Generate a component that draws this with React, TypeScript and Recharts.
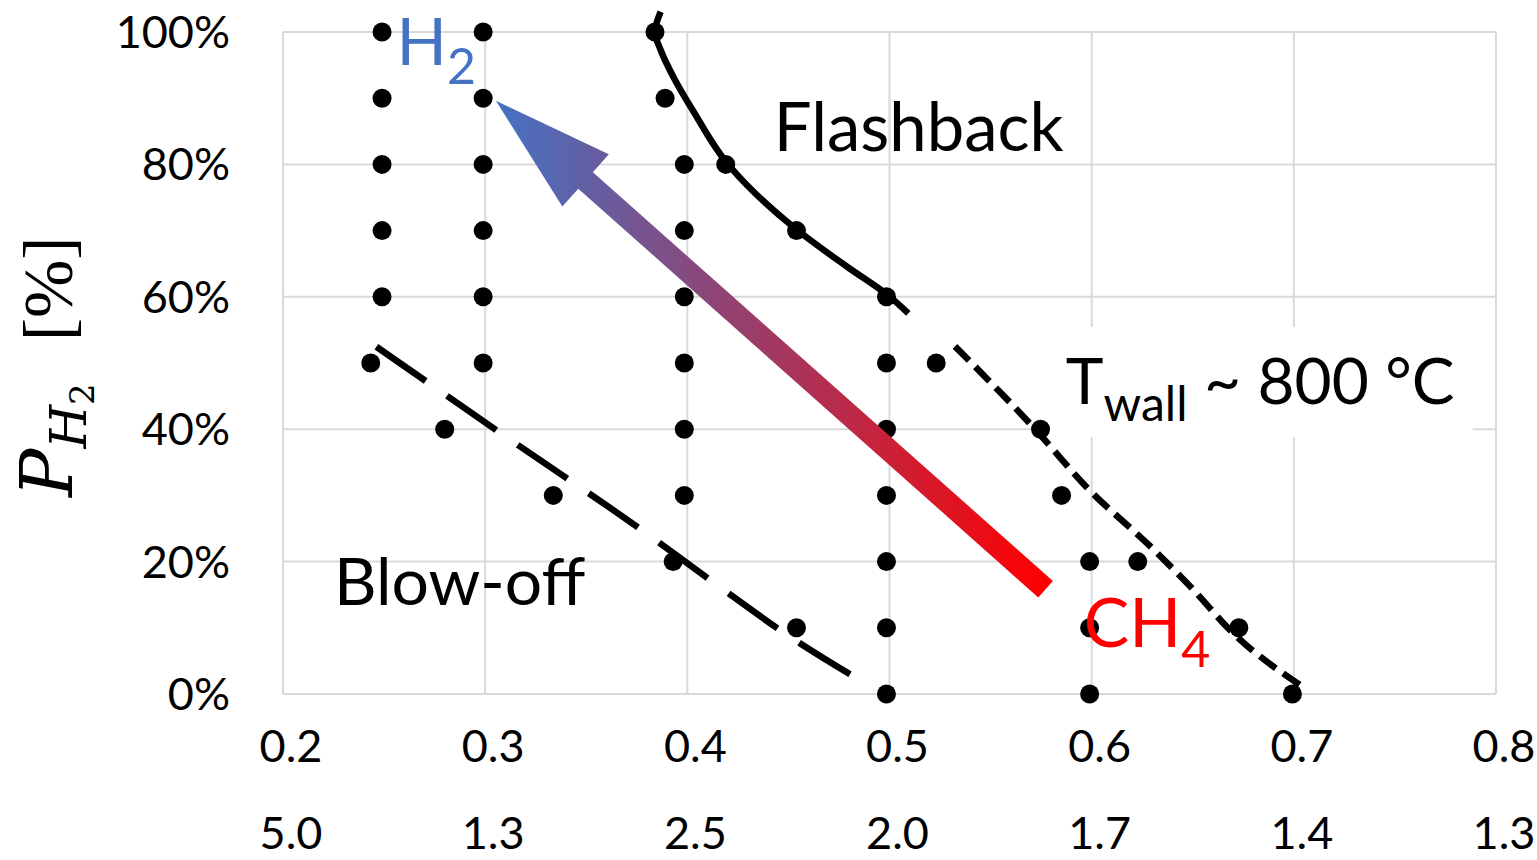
import React from 'react';
import {
  ComposedChart,
  XAxis,
  YAxis,
  Scatter,
  Line,
  ReferenceLine,
  ReferenceArea,
} from 'recharts';

// ---------- axes ----------
const xTicks = [0.2, 0.3, 0.4, 0.5, 0.6, 0.7, 0.8];
const xTicksSecondRow = ['5.0', '1.3', '2.5', '2.0', '1.7', '1.4', '1.3'];
const yTicks = [0, 0.2, 0.4, 0.6, 0.8, 1.0];
const yDomainMax = 1.03625;

// ---------- measured operating points (x = equivalence ratio, y = H2 share) ----------
const column025 = [
  { x: 0.249, y: 1.0 }, { x: 0.249, y: 0.9 }, { x: 0.249, y: 0.8 }, { x: 0.249, y: 0.7 }, { x: 0.249, y: 0.6 },
];
const column030 = [
  { x: 0.299, y: 1.0 }, { x: 0.299, y: 0.9 }, { x: 0.299, y: 0.8 }, { x: 0.299, y: 0.7 }, { x: 0.299, y: 0.6 }, { x: 0.299, y: 0.5 },
];
const blowoffPoints = [
  { x: 0.2434, y: 0.5 }, { x: 0.28, y: 0.4 }, { x: 0.3337, y: 0.3 }, { x: 0.393, y: 0.2 }, { x: 0.454, y: 0.1 }, { x: 0.4985, y: 0.0 },
];
const column040 = [
  { x: 0.3985, y: 0.8 }, { x: 0.3985, y: 0.7 }, { x: 0.3985, y: 0.6 }, { x: 0.3985, y: 0.5 }, { x: 0.3985, y: 0.4 }, { x: 0.3985, y: 0.3 },
];
const column050 = [
  { x: 0.4985, y: 0.5 }, { x: 0.4985, y: 0.4 }, { x: 0.4985, y: 0.3 }, { x: 0.4985, y: 0.2 }, { x: 0.4985, y: 0.1 },
];
const flashbackPoints = [
  { x: 0.384, y: 1.0 }, { x: 0.389, y: 0.9 }, { x: 0.419, y: 0.8 }, { x: 0.454, y: 0.7 }, { x: 0.4985, y: 0.6 },
];
const twallPoints = [
  { x: 0.5231, y: 0.5 }, { x: 0.5747, y: 0.4 }, { x: 0.5851, y: 0.3 }, { x: 0.6228, y: 0.2 }, { x: 0.6728, y: 0.1 }, { x: 0.6993, y: 0.0 },
];
const column060 = [
  { x: 0.599, y: 0.2 }, { x: 0.599, y: 0.1 }, { x: 0.599, y: 0.0 },
];

const allPoints = [
  ...column025, ...column030, ...blowoffPoints, ...column040,
  ...column050, ...flashbackPoints, ...twallPoints, ...column060,
];

// ---------- stability limit curves ----------
const flashbackLimit = [
  { x: 0.3868, y: 1.0307 }, { x: 0.384, y: 1.0 }, { x: 0.3868, y: 0.9728 }, { x: 0.3939, y: 0.9275 },
  { x: 0.4035, y: 0.8776 }, { x: 0.4196, y: 0.8021 }, { x: 0.4319, y: 0.7613 }, { x: 0.4537, y: 0.7024 },
  { x: 0.4792, y: 0.645 }, { x: 0.4991, y: 0.6027 }, { x: 0.5093, y: 0.575 },
];
const blowoffLimit = [
  { x: 0.2462, y: 0.5246 }, { x: 0.3078, y: 0.3938 }, { x: 0.3797, y: 0.2427 },
  { x: 0.4147, y: 0.1647 }, { x: 0.4507, y: 0.0866 }, { x: 0.4866, y: 0.0186 },
];
const twallLimit = [
  { x: 0.5324, y: 0.5251 }, { x: 0.5724, y: 0.3988 }, { x: 0.5974, y: 0.3127 }, { x: 0.63, y: 0.2201 },
  { x: 0.6495, y: 0.1601 }, { x: 0.6689, y: 0.0952 }, { x: 0.7037, y: 0.0121 },
];

// ---------- annotations (data coordinates) ----------
const arrowFromCH4toH2 = [{ x: 0.5772, y: 0.1583 }, { x: 0.3053, y: 0.8962 }];
const twallBox = { x1: 0.5793, x2: 0.7885, y1: 0.3882, y2: 0.5544 };
const flashbackAnchor = [{ x: 0.4428, y: 0.8207 }];
const blowoffAnchor = [{ x: 0.2252, y: 0.1344 }];
const twallAnchor = [{ x: 0.5872, y: 0.4381 }];
const h2Anchor = [{ x: 0.2562, y: 0.9494 }];
const ch4Anchor = [{ x: 0.5961, y: 0.0715 }];

const FONT = 'Lato';
const GRID = '#D9D9D9';
const LIMIT_WIDTH = 6.5;

const XTick = (props: any) => {
  const { x, y, payload } = props;
  const i = xTicks.indexOf(payload.value);
  return (
    <g>
      <text x={x + 8} y={y + 68} textAnchor="middle" fontFamily={FONT} fontSize={45} fill="#000">
        {Number(payload.value).toFixed(1)}
      </text>
      <text x={x + 8} y={y + 155} textAnchor="middle" fontFamily={FONT} fontSize={45} fill="#000">
        {xTicksSecondRow[i]}
      </text>
    </g>
  );
};

const YLabel = (props: any) => {
  const vb = props.viewBox || { x: 0, y: 8 };
  const cx = vb.x + 72;
  const cy = vb.y + 489;
  return (
    <text
      transform={`rotate(-90 ${cx} ${cy})`}
      x={cx}
      y={cy}
      fontFamily="'DejaVu Serif', 'Liberation Serif', serif"
      fill="#000"
    >
      <tspan fontSize={72} fontStyle="italic">P</tspan>
      <tspan fontSize={50} fontStyle="italic" dy={14}>H</tspan>
      <tspan fontSize={34} dy={8}>2</tspan>
      <tspan fontFamily="'Liberation Serif', serif" fontSize={70} dy={-22} dx={42}>[%]</tspan>
    </text>
  );
};

const Dot = (p: any) => <circle cx={p.cx} cy={p.cy} r={9.5} fill="#000" />;

const ArrowShape = (p: any) => {
  const { x1, y1, x2, y2 } = p;
  if (![x1, y1, x2, y2].every((v) => typeof v === 'number' && isFinite(v))) return null;
  const dx = x2 - x1;
  const dy = y2 - y1;
  const L = Math.sqrt(dx * dx + dy * dy);
  const ux = dx / L;
  const uy = dy / L;
  const nx = -uy;
  const ny = ux;
  const headLen = 120;
  const headHalf = 35;
  const shaftHalf = 11;
  const bx = x2 - ux * headLen;
  const by = y2 - uy * headLen;
  const pts = [
    [x1 + nx * shaftHalf, y1 + ny * shaftHalf],
    [bx + nx * shaftHalf, by + ny * shaftHalf],
    [bx + nx * headHalf, by + ny * headHalf],
    [x2, y2],
    [bx - nx * headHalf, by - ny * headHalf],
    [bx - nx * shaftHalf, by - ny * shaftHalf],
    [x1 - nx * shaftHalf, y1 - ny * shaftHalf],
  ];
  return (
    <g>
      <defs>
        <linearGradient id="arrowGrad" gradientUnits="userSpaceOnUse" x1={x2} y1={0} x2={x1} y2={0}>
          <stop offset="0%" stopColor="#4472C4" />
          <stop offset="100%" stopColor="#FF0000" />
        </linearGradient>
      </defs>
      <polygon points={pts.map((q) => q.join(',')).join(' ')} fill="url(#arrowGrad)" />
    </g>
  );
};

const FlashbackLabel = (p: any) => (
  <text x={p.cx} y={p.cy} fontFamily={FONT} fontSize={67} fill="#000">Flashback</text>
);
const BlowoffLabel = (p: any) => (
  <text x={p.cx} y={p.cy} fontFamily={FONT} fontSize={66} fill="#000">Blow-off</text>
);
const TwallLabel = (p: any) => (
  <text x={p.cx} y={p.cy} fontFamily={FONT} fill="#000">
    <tspan fontSize={64}>T</tspan>
    <tspan fontSize={48} dy={17}>wall</tspan>
    <tspan fontSize={64} dy={-17}> ~ 800 °C</tspan>
  </text>
);
const H2Label = (p: any) => (
  <text x={p.cx} y={p.cy} fontFamily={FONT} fill="#4472C4">
    <tspan fontSize={66}>H</tspan>
    <tspan fontSize={50} dy={19}>2</tspan>
  </text>
);
const CH4Label = (p: any) => (
  <text x={p.cx} y={p.cy} fontFamily={FONT} fill="#FF0000">
    <tspan fontSize={68}>CH</tspan>
    <tspan fontSize={50} dy={20}>4</tspan>
  </text>
);

export default function App() {
  return (
    <div style={{ position: 'absolute', left: 0, top: 0, background: '#fff' }}>
      <ComposedChart
        width={1537}
        height={860}
        margin={{ top: 8, right: 41, bottom: 0, left: 0 }}
      >
        <XAxis
          type="number"
          dataKey="x"
          domain={[0.2, 0.8]}
          ticks={xTicks}
          interval={0}
          height={166}
          tickLine={false}
          axisLine={false}
          tickSize={0}
          tickMargin={0}
          tick={<XTick />}
        />
        <YAxis
          type="number"
          dataKey="y"
          domain={[0, yDomainMax]}
          ticks={yTicks}
          interval={0}
          width={283}
          tickLine={false}
          axisLine={false}
          tickSize={8}
          tickMargin={45}
          tick={{ fontFamily: FONT, fontSize: 45, fill: '#000' }}
          tickFormatter={(v: number) => `${Math.round(v * 100)}%`}
          label={(props: any) => <YLabel {...props} />}
        />
        {yTicks.map((t) => (
          <ReferenceLine
            key={`hg-${t}`}
            segment={[{ x: 0.2, y: t }, { x: 0.8, y: t }]}
            stroke={GRID}
            strokeWidth={2}
            ifOverflow="visible"
            zIndex={-100}
          />
        ))}
        {xTicks.map((t) => (
          <ReferenceLine
            key={`vg-${t}`}
            segment={[{ x: t, y: 0 }, { x: t, y: 1 }]}
            stroke={GRID}
            strokeWidth={2}
            ifOverflow="visible"
            zIndex={-100}
          />
        ))}
        <ReferenceArea
          x1={twallBox.x1}
          x2={twallBox.x2}
          y1={twallBox.y1}
          y2={twallBox.y2}
          fill="#fff"
          fillOpacity={1}
          stroke="none"
          ifOverflow="visible"
          zIndex={-50}
        />
        <Line
          data={flashbackLimit}
          dataKey="y"
          type="monotoneY"
          stroke="#000"
          strokeWidth={LIMIT_WIDTH}
          dot={false}
          activeDot={false}
          isAnimationActive={false}
        />
        <Line
          data={blowoffLimit}
          dataKey="y"
          type="monotoneX"
          stroke="#000"
          strokeWidth={LIMIT_WIDTH}
          strokeDasharray="60 26"
          dot={false}
          activeDot={false}
          isAnimationActive={false}
        />
        <Line
          data={twallLimit}
          dataKey="y"
          type="monotoneX"
          stroke="#000"
          strokeWidth={LIMIT_WIDTH}
          strokeDasharray="20 9"
          dot={false}
          activeDot={false}
          isAnimationActive={false}
        />
        <Scatter data={allPoints} dataKey="y" shape={Dot} isAnimationActive={false} />
        <ReferenceLine
          segment={arrowFromCH4toH2}
          shape={ArrowShape}
          ifOverflow="visible"
          zIndex={700}
        />
        <Scatter data={flashbackAnchor} dataKey="y" shape={FlashbackLabel} isAnimationActive={false} zIndex={800} />
        <Scatter data={blowoffAnchor} dataKey="y" shape={BlowoffLabel} isAnimationActive={false} zIndex={800} />
        <Scatter data={twallAnchor} dataKey="y" shape={TwallLabel} isAnimationActive={false} zIndex={800} />
        <Scatter data={h2Anchor} dataKey="y" shape={H2Label} isAnimationActive={false} zIndex={800} />
        <Scatter data={ch4Anchor} dataKey="y" shape={CH4Label} isAnimationActive={false} zIndex={800} />
      </ComposedChart>
    </div>
  );
}
